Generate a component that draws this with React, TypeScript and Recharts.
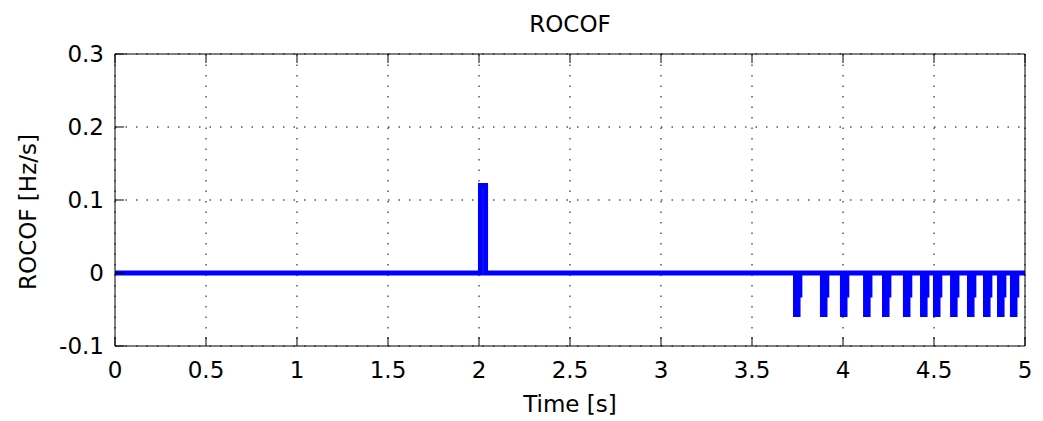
import { LineChart, Line, XAxis, YAxis, CartesianGrid } from "recharts";

// ─── Data ───────────────────────────────────────────────────────────

const FONT = "'DejaVu Sans', Arial, sans-serif";

const xTicks = [0, 0.5, 1, 1.5, 2, 2.5, 3, 3.5, 4, 4.5, 5];
const yTicks = [-0.1, 0, 0.1, 0.2, 0.3];

// positive spike around t = 2 s
const spikeStart = 2.008;
const spikeEnd = 2.036;
const spikeValue = 0.12;

// negative pulses after 3.7 s (start times, seconds)
const pulseStarts = [
  3.739, 3.887, 3.997, 4.124, 4.228, 4.343, 4.437, 4.508, 4.602, 4.695, 4.783,
  4.86, 4.931,
];
const pulseDepth = -0.057;
const pulseStep = -0.03;
const pulseNarrow = 0.014;
const pulseWide = 0.024;

// build the step waveform from the event lists
const rocof: { t: number; v: number }[] = [
  { t: 0, v: 0 },
  { t: spikeStart, v: 0 },
  { t: spikeStart, v: spikeValue },
  { t: spikeEnd, v: spikeValue },
  { t: spikeEnd, v: 0 },
];
pulseStarts.forEach((t0) => {
  rocof.push(
    { t: t0, v: 0 },
    { t: t0, v: pulseDepth },
    { t: t0 + pulseNarrow, v: pulseDepth },
    { t: t0 + pulseNarrow, v: pulseStep },
    { t: t0 + pulseWide, v: pulseStep },
    { t: t0 + pulseWide, v: 0 },
  );
});
rocof.push({ t: 5, v: 0 });

// ─── Ticks & labels ─────────────────────────────────────────────────

function XTick({ x, y, payload }: any) {
  return (
    <text x={x} y={y} dy="0.71em" textAnchor="middle" fontFamily={FONT} fontSize={23} fill="#000">
      {String(payload.value)}
    </text>
  );
}

function YTick({ x, y, payload }: any) {
  return (
    <text x={x} y={y} dy="0.36em" textAnchor="end" fontFamily={FONT} fontSize={23} fill="#000">
      {String(payload.value)}
    </text>
  );
}

function NoTick() {
  return <g />;
}

function YLabel({ viewBox }: any) {
  const cx = viewBox.x + viewBox.width - 87;
  const cy = viewBox.y + viewBox.height / 2 + 12;
  return (
    <text
      x={cx}
      y={cy}
      transform={`rotate(-90, ${cx}, ${cy})`}
      textAnchor="middle"
      dominantBaseline="central"
      fontFamily={FONT}
      fontSize={23}
      fill="#000"
    >
      ROCOF [Hz/s]
    </text>
  );
}

function TitleLabel({ viewBox }: any) {
  return (
    <text
      x={viewBox.x + viewBox.width / 2}
      y={viewBox.y + viewBox.height - 22}
      textAnchor="middle"
      fontFamily={FONT}
      fontSize={23}
      fill="#000"
    >
      ROCOF
    </text>
  );
}

function XLabel({ viewBox }: any) {
  return (
    <text
      x={viewBox.x + viewBox.width / 2}
      y={viewBox.y + 66}
      textAnchor="middle"
      fontFamily={FONT}
      fontSize={23}
      fill="#000"
    >
      Time [s]
    </text>
  );
}

// ─── Chart ──────────────────────────────────────────────────────────

export default function App() {
  return (
    <div style={{ position: "absolute", left: 0, top: 0, background: "#fff" }}>
      <LineChart
        width={1043}
        height={421}
        data={rocof}
        margin={{ top: 44, right: 8, left: 75, bottom: 45 }}
      >
        <CartesianGrid stroke="#000" strokeDasharray="1.5 9" strokeWidth={1} />
        <XAxis
          xAxisId={0}
          dataKey="t"
          type="number"
          domain={[0, 5]}
          ticks={xTicks}
          height={30}
          stroke="#000"
          tickSize={-9}
          tickMargin={25}
          tick={<XTick />}
          interval={0}
          label={<XLabel />}
        />
        <XAxis
          xAxisId="top"
          orientation="top"
          dataKey="t"
          type="number"
          domain={[0, 5]}
          ticks={xTicks}
          height={10}
          stroke="#000"
          tickSize={-9}
          tick={<NoTick />}
          interval={0}
          label={<TitleLabel />}
        />
        <YAxis
          yAxisId={0}
          type="number"
          domain={[-0.1, 0.3]}
          ticks={yTicks}
          width={40}
          stroke="#000"
          tickSize={-9}
          tickMargin={20}
          tick={<YTick />}
          interval={0}
          allowDataOverflow
          label={<YLabel />}
        />
        <YAxis
          yAxisId="right"
          orientation="right"
          type="number"
          domain={[-0.1, 0.3]}
          ticks={yTicks}
          width={10}
          stroke="#000"
          tickSize={-9}
          tick={<NoTick />}
          interval={0}
        />
        <Line
          xAxisId={0}
          yAxisId={0}
          type="linear"
          dataKey="v"
          stroke="#0000FF"
          strokeWidth={5}
          dot={false}
          activeDot={false}
          isAnimationActive={false}
        />
      </LineChart>
    </div>
  );
}
